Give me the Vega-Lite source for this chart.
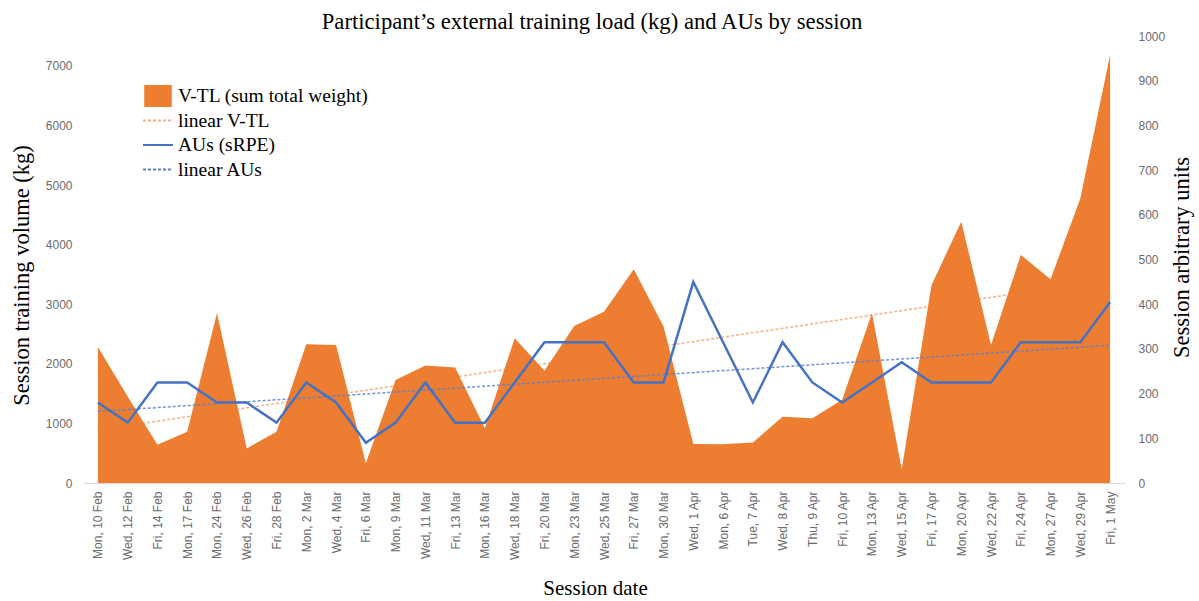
{
  "$schema": "https://vega.github.io/schema/vega-lite/v6.json",
  "autosize": {"type": "none"},
  "padding": {"left": 83, "top": 36, "right": 74, "bottom": 118},
  "width": 1042,
  "height": 447,
  "title": {
    "text": "Participant’s external training load (kg) and AUs by session",
    "font": "Liberation Serif",
    "fontSize": 22.7,
    "fontWeight": "normal",
    "color": "#000000",
    "anchor": "middle",
    "offset": -4,
    "dx": -12
  },
  "datasets": {
    "sessions": [
      {"date": "Mon, 10 Feb", "vtl": 2280, "aus": 180},
      {"date": "Wed, 12 Feb", "vtl": 1450, "aus": 135},
      {"date": "Fri, 14 Feb", "vtl": 640, "aus": 225},
      {"date": "Mon, 17 Feb", "vtl": 860, "aus": 225},
      {"date": "Mon, 24 Feb", "vtl": 2850, "aus": 180},
      {"date": "Wed, 26 Feb", "vtl": 580, "aus": 180},
      {"date": "Fri, 28 Feb", "vtl": 860, "aus": 135},
      {"date": "Mon, 2 Mar", "vtl": 2330, "aus": 225},
      {"date": "Wed, 4 Mar", "vtl": 2315, "aus": 180},
      {"date": "Fri, 6 Mar", "vtl": 330, "aus": 90},
      {"date": "Mon, 9 Mar", "vtl": 1730, "aus": 135},
      {"date": "Wed, 11 Mar", "vtl": 1970, "aus": 225},
      {"date": "Fri, 13 Mar", "vtl": 1940, "aus": 135},
      {"date": "Mon, 16 Mar", "vtl": 920, "aus": 135},
      {"date": "Wed, 18 Mar", "vtl": 2430, "aus": 225},
      {"date": "Fri, 20 Mar", "vtl": 1885, "aus": 315},
      {"date": "Mon, 23 Mar", "vtl": 2635, "aus": 315},
      {"date": "Wed, 25 Mar", "vtl": 2875, "aus": 315},
      {"date": "Fri, 27 Mar", "vtl": 3585, "aus": 225},
      {"date": "Mon, 30 Mar", "vtl": 2625, "aus": 225},
      {"date": "Wed, 1 Apr", "vtl": 655, "aus": 450},
      {"date": "Mon, 6 Apr", "vtl": 650, "aus": 315},
      {"date": "Tue, 7 Apr", "vtl": 680, "aus": 180},
      {"date": "Wed, 8 Apr", "vtl": 1110, "aus": 315},
      {"date": "Thu, 9 Apr", "vtl": 1085, "aus": 225},
      {"date": "Fri, 10 Apr", "vtl": 1395, "aus": 180},
      {"date": "Mon, 13 Apr", "vtl": 2850, "aus": 225},
      {"date": "Wed, 15 Apr", "vtl": 230, "aus": 270},
      {"date": "Fri, 17 Apr", "vtl": 3320, "aus": 225},
      {"date": "Mon, 20 Apr", "vtl": 4385, "aus": 225},
      {"date": "Wed, 22 Apr", "vtl": 2315, "aus": 225},
      {"date": "Fri, 24 Apr", "vtl": 3825, "aus": 315},
      {"date": "Mon, 27 Apr", "vtl": 3420, "aus": 315},
      {"date": "Wed, 29 Apr", "vtl": 4775, "aus": 315},
      {"date": "Fri, 1 May", "vtl": 7180, "aus": 405}
    ],
    "trends": [
      {"date": "Mon, 10 Feb", "vtl_trend": 889, "aus_trend": 160},
      {"date": "Fri, 1 May", "vtl_trend": 3411, "aus_trend": 308}
    ]
  },
  "config": {
    "view": {"stroke": null},
    "axis": {
      "grid": false,
      "ticks": false,
      "labelFont": "Liberation Sans",
      "labelFontSize": 12,
      "labelColor": "#6b6b6b",
      "titleFont": "Liberation Serif",
      "titleFontSize": 21,
      "titleFontWeight": "normal",
      "titleColor": "#000000"
    }
  },
  "encoding": {
    "x": {
      "field": "date",
      "type": "ordinal",
      "sort": null,
      "scale": {
        "type": "point",
        "padding": 0.5,
        "domain": ["Mon, 10 Feb", "Wed, 12 Feb", "Fri, 14 Feb", "Mon, 17 Feb", "Mon, 24 Feb", "Wed, 26 Feb", "Fri, 28 Feb", "Mon, 2 Mar", "Wed, 4 Mar", "Fri, 6 Mar", "Mon, 9 Mar", "Wed, 11 Mar", "Fri, 13 Mar", "Mon, 16 Mar", "Wed, 18 Mar", "Fri, 20 Mar", "Mon, 23 Mar", "Wed, 25 Mar", "Fri, 27 Mar", "Mon, 30 Mar", "Wed, 1 Apr", "Mon, 6 Apr", "Tue, 7 Apr", "Wed, 8 Apr", "Thu, 9 Apr", "Fri, 10 Apr", "Mon, 13 Apr", "Wed, 15 Apr", "Fri, 17 Apr", "Mon, 20 Apr", "Wed, 22 Apr", "Fri, 24 Apr", "Mon, 27 Apr", "Wed, 29 Apr", "Fri, 1 May"]
      },
      "axis": {
        "title": "Session date",
        "labelAngle": 270,
        "labelPadding": 8,
        "domain": true,
        "domainColor": "#d9d9d9",
        "titleX": 512,
        "titleY": 105,
        "titleBaseline": "middle",
        "titleAnchor": null
      }
    }
  },
  "layer": [
    {
      "layer": [
        {
          "data": {"name": "trends"},
          "mark": {"type": "line", "strokeWidth": 1.5, "strokeDash": [3, 2]},
          "encoding": {
            "y": {
              "field": "vtl_trend",
              "type": "quantitative",
              "scale": {"domain": [0, 7500], "nice": false, "zero": true},
              "axis": {
                "title": "Session training volume (kg)",
                "orient": "left",
                "format": "d",
                "values": [0, 1000, 2000, 3000, 4000, 5000, 6000, 7000],
                "domain": false,
                "labelPadding": 11,
                "titleFontSize": 22.5,
                "titleAngle": 270,
                "titleX": -62,
                "titleY": 239,
                "titleBaseline": "middle",
                "titleAlign": "center"
              }
            },
            "color": {
              "datum": "linear V-TL",
              "type": "nominal",
              "scale": {
                "domain": ["V-TL (sum total weight)", "linear V-TL", "AUs (sRPE)", "linear AUs"],
                "range": ["#ED7D31", "#F4B183", "#4472C4", "#5B7FD0"]
              },
              "legend": {
                "title": null,
                "orient": "none",
                "legendX": 59,
                "legendY": 49,
                "labelFont": "Liberation Serif",
                "labelFontSize": 19.5,
                "labelColor": "#000000",
                "labelLimit": 400,
                "labelOffset": 4,
                "clipHeight": 22,
                "rowPadding": 2.5,
                "symbolOpacity": 1,
                "encode": {
                  "symbols": {
                    "update": {
                      "shape": {"signal": "datum.value === 'V-TL (sum total weight)' ? 'square' : 'stroke'"},
                      "size": {"signal": "datum.value === 'V-TL (sum total weight)' ? 650 : 900"},
                      "fill": {"signal": "datum.value === 'V-TL (sum total weight)' ? '#ED7D31' : 'transparent'"},
                      "stroke": {"signal": "datum.value === 'linear V-TL' ? '#F4B183' : datum.value === 'AUs (sRPE)' ? '#4472C4' : datum.value === 'linear AUs' ? '#5B7FD0' : 'transparent'"},
                      "strokeDash": {"signal": "(datum.value === 'linear V-TL' || datum.value === 'linear AUs') ? [3, 2] : []"},
                      "strokeWidth": {"value": 2},
                      "opacity": {"value": 1}
                    }
                  }
                }
              }
            }
          }
        },
        {
          "data": {"name": "sessions"},
          "mark": {"type": "area", "opacity": 1, "interpolate": "linear"},
          "encoding": {
            "y": {
              "field": "vtl",
              "type": "quantitative",
              "scale": {"domain": [0, 7500], "nice": false, "zero": true},
              "axis": {"title": "Session training volume (kg)"}
            },
            "color": {"datum": "V-TL (sum total weight)", "type": "nominal"}
          }
        }
      ]
    },
    {
      "layer": [
        {
          "data": {"name": "trends"},
          "mark": {"type": "line", "strokeWidth": 1.5, "strokeDash": [3, 2], "opacity": 0.85},
          "encoding": {
            "y": {
              "field": "aus_trend",
              "type": "quantitative",
              "scale": {"domain": [0, 1000], "nice": false, "zero": true},
              "axis": {
                "title": "Session arbitrary units",
                "orient": "right",
                "format": "d",
                "values": [0, 100, 200, 300, 400, 500, 600, 700, 800, 900, 1000],
                "domain": false,
                "labelPadding": 13,
                "titleFontSize": 22.5,
                "titleAngle": 270,
                "titleX": 56,
                "titleY": 221,
                "titleBaseline": "middle",
                "titleAlign": "center"
              }
            },
            "color": {"datum": "linear AUs", "type": "nominal"}
          }
        },
        {
          "data": {"name": "sessions"},
          "mark": {"type": "line", "strokeWidth": 2.5},
          "encoding": {
            "y": {
              "field": "aus",
              "type": "quantitative",
              "scale": {"domain": [0, 1000], "nice": false, "zero": true},
              "axis": {"title": "Session arbitrary units"}
            },
            "color": {"datum": "AUs (sRPE)", "type": "nominal"}
          }
        }
      ]
    }
  ],
  "resolve": {"scale": {"y": "independent"}}
}
